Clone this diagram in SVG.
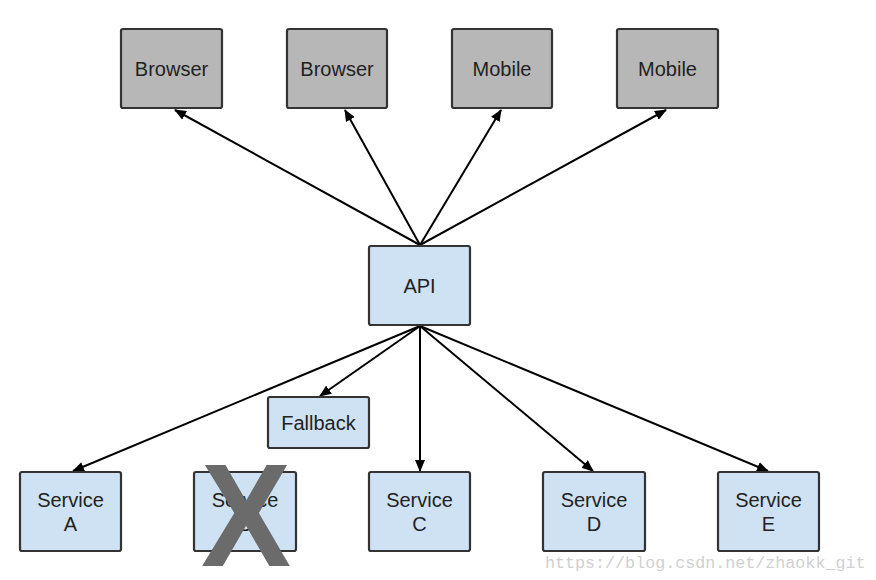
<svg xmlns="http://www.w3.org/2000/svg" width="876" height="580" viewBox="0 0 876 580">
<style>
.client{fill:#b7b7b7;stroke:#333;stroke-width:2.2}
.svc{fill:#cfe2f3;stroke:#333;stroke-width:2.2}
.lbl{font-family:"Liberation Sans",Arial,sans-serif;font-size:20px;fill:#222;text-anchor:middle}
.edge{stroke:#000;stroke-width:2;fill:none;marker-end:url(#ah)}
</style>
<defs>
<marker id="ah" markerWidth="12" markerHeight="10" refX="11" refY="5" orient="auto" markerUnits="userSpaceOnUse">
<path d="M0,0 L12,5 L0,10 z" fill="#000"/>
</marker>
</defs>
<rect width="876" height="580" fill="#fff"/>
<g id="connectors">
<line class="edge" x1="420" y1="245" x2="175" y2="110"/>
<line class="edge" x1="420" y1="245" x2="345" y2="110"/>
<line class="edge" x1="420" y1="245" x2="501" y2="110"/>
<line class="edge" x1="420" y1="245" x2="666" y2="110"/>
<line class="edge" x1="420" y1="326" x2="73" y2="471"/>
<line class="edge" x1="420" y1="326" x2="320" y2="396"/>
<line class="edge" x1="420" y1="326" x2="420" y2="471"/>
<line class="edge" x1="420" y1="326" x2="593" y2="471"/>
<line class="edge" x1="420" y1="326" x2="768" y2="471"/>
</g>
<g id="browser1"><rect class="client" x="121" y="29" width="101" height="79" rx="2"/><text class="lbl" x="171.5" y="76">Browser</text></g>
<g id="browser2"><rect class="client" x="287" y="29" width="100" height="79" rx="2"/><text class="lbl" x="337" y="76">Browser</text></g>
<g id="mobile1"><rect class="client" x="452" y="29" width="100" height="79" rx="2"/><text class="lbl" x="502" y="76">Mobile</text></g>
<g id="mobile2"><rect class="client" x="617" y="29" width="101" height="79" rx="2"/><text class="lbl" x="667.5" y="76">Mobile</text></g>
<g id="api"><rect class="svc" x="369" y="246" width="101" height="79" rx="2"/><text class="lbl" x="419.5" y="293">API</text></g>
<g id="fallback"><rect class="svc" x="268" y="397" width="101" height="51" rx="2"/><text class="lbl" x="318.5" y="430">Fallback</text></g>
<g id="serviceA"><rect class="svc" x="20" y="472" width="101" height="79" rx="2"/><text class="lbl" x="70.5" y="507">Service</text><text class="lbl" x="70.5" y="531">A</text></g>
<g id="serviceB"><rect class="svc" x="194" y="472" width="102" height="79" rx="2"/><text class="lbl" x="245" y="507">Service</text><text class="lbl" x="245" y="531">B</text></g>
<g id="serviceC"><rect class="svc" x="369" y="472" width="101" height="79" rx="2"/><text class="lbl" x="419.5" y="507">Service</text><text class="lbl" x="419.5" y="531">C</text></g>
<g id="serviceD"><rect class="svc" x="543" y="472" width="102" height="79" rx="2"/><text class="lbl" x="594" y="507">Service</text><text class="lbl" x="594" y="531">D</text></g>
<g id="serviceE"><rect class="svc" x="718" y="472" width="101" height="79" rx="2"/><text class="lbl" x="768.5" y="507">Service</text><text class="lbl" x="768.5" y="531">E</text></g>
<text x="246" y="566" font-family="Liberation Sans,Arial,sans-serif" font-weight="bold" font-size="146" fill="#6b6b6b" text-anchor="middle" textLength="90" lengthAdjust="spacingAndGlyphs">X</text>
<text x="545" y="568" font-family="Liberation Mono,Courier New,monospace" font-size="16.7" fill="#d0d0d0">https://blog.csdn.net/zhaokk_git</text>
</svg>
